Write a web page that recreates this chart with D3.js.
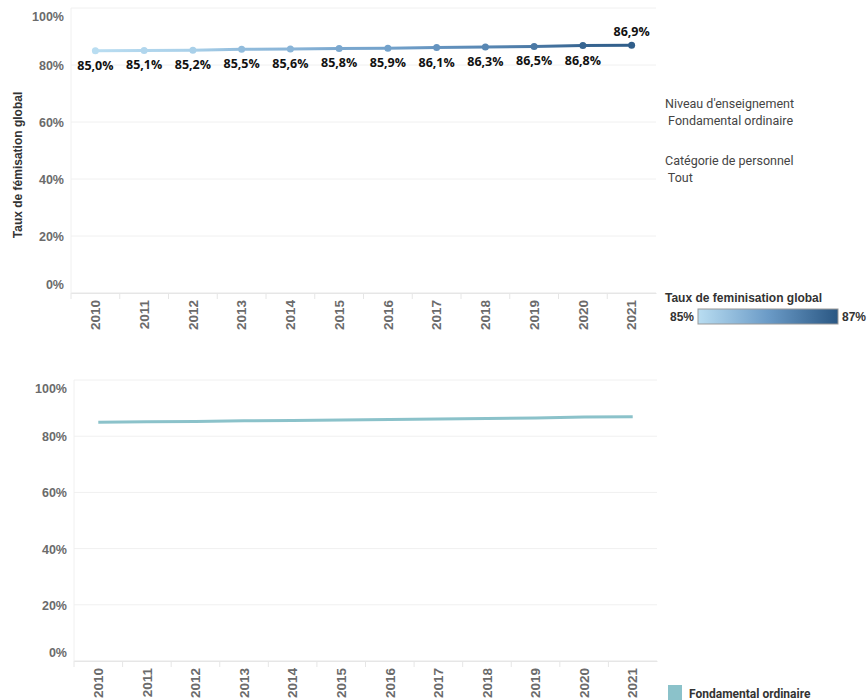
<!DOCTYPE html>
<html>
<head>
<meta charset="utf-8">
<script src="https://cdn.jsdelivr.net/npm/d3@7"></script>
<style>
  body { margin: 0; background: #fff; }
  svg { display: block; }
</style>
</head>
<body>
<div id="graph"></div>
<script>
// data
var years = ["2010","2011","2012","2013","2014","2015","2016","2017","2018","2019","2020","2021"];
var taux = [85.0, 85.1, 85.2, 85.5, 85.6, 85.8, 85.9, 86.1, 86.3, 86.5, 86.8, 86.9];
var yTicks = [0, 20, 40, 60, 80, 100];
var colorDomain = [85, 87];
var annotations = [["Niveau d'enseignement", " Fondamental ordinaire"], ["Catégorie de personnel", " Tout"]];
var seriesName = "Fondamental ordinaire";

var width = 867, height = 700;
var fmt = function (v) { return v.toFixed(1).replace(".", ",") + "%"; };

var svg = d3.select("#graph").append("svg")
    .attr("width", width)
    .attr("height", height);

var color = d3.scaleLinear()
    .domain([colorDomain[0], (colorDomain[0] + colorDomain[1]) / 2, colorDomain[1]])
    .range(["#b9ddf1", "#6b9bc7", "#2a5783"]);

var defs = svg.append("defs");

function panel(top, bottom, left, right, opts) {
  var g = svg.append("g");
  var x = d3.scaleBand().domain(years).range([left, right]);
  var y = d3.scaleLinear().domain([0, 100]).range([bottom, top]);

  // grid
  g.selectAll(".grid").data(yTicks).enter().append("line")
      .attr("x1", left).attr("x2", right)
      .attr("y1", function (d) { return y(d); }).attr("y2", function (d) { return y(d); })
      .attr("stroke", function (d) { return d === 0 ? "#e6e6e6" : "#f0f0f0"; })
      .attr("stroke-width", 1);
  g.append("line").attr("x1", left).attr("x2", left).attr("y1", top).attr("y2", bottom)
      .attr("stroke", "#f0f0f0");

  // y labels (tableau nudges the outer ones inside)
  g.selectAll(".ylab").data(yTicks).enter().append("text")
      .attr("x", left - 7)
      .attr("y", function (d) { return y(d) + (d === 100 ? 13 : d === 0 ? -4 : 5); })
      .attr("text-anchor", "end")
      .attr("font-family", "Liberation Sans, Arial, sans-serif")
      .attr("font-weight", "bold")
      .attr("font-size", 12.5)
      .attr("fill", "#6b6b6b")
      .text(function (d) { return d + "%"; });

  // x ticks + labels
  var xAxis = d3.axisBottom(x).tickSize(6).tickSizeOuter(0);
  var ax = g.append("g").attr("transform", "translate(0," + bottom + ")").call(xAxis);
  ax.select(".domain").attr("stroke", "#e6e6e6");
  ax.selectAll(".tick line").attr("stroke", "#e6e6e6")
      .attr("transform", "translate(" + (-x.bandwidth() / 2) + ",0)");
  ax.selectAll(".tick text")
      .attr("transform", "rotate(-90)")
      .attr("text-anchor", "end")
      .attr("x", -7).attr("y", 0).attr("dy", "0.35em")
      .attr("font-family", "Liberation Sans, Arial, sans-serif")
      .attr("font-weight", "bold")
      .attr("font-size", 13.5)
      .attr("fill", "#6b6b6b");

  var cx = function (d, i) { return x(years[i]) + x.bandwidth() / 2; };
  var line = d3.line().x(function (d, i) { return cx(d, i); }).y(function (d) { return y(d); });

  if (opts.gradient) {
    var grad = defs.append("linearGradient").attr("id", "lineGrad")
        .attr("gradientUnits", "userSpaceOnUse")
        .attr("x1", cx(0, 0)).attr("x2", cx(0, years.length - 1)).attr("y1", 0).attr("y2", 0);
    grad.selectAll("stop").data(taux).enter().append("stop")
        .attr("offset", function (d, i) { return i / (taux.length - 1); })
        .attr("stop-color", function (d) { return color(d); });
    g.append("path").datum(taux).attr("d", line)
        .attr("fill", "none").attr("stroke", "url(#lineGrad)").attr("stroke-width", 3);
    g.selectAll(".pt").data(taux).enter().append("circle")
        .attr("cx", cx).attr("cy", function (d) { return y(d); })
        .attr("r", 3.5).attr("fill", function (d) { return color(d); });
    g.selectAll(".lab").data(taux).enter().append("text")
        .attr("x", cx)
        .attr("y", function (d, i) { return y(d) + (i === taux.length - 1 ? -9 : 19); })
        .attr("text-anchor", "middle")
        .attr("font-family", "Open Sans, sans-serif")
        .attr("font-weight", "bold")
        .attr("font-size", 12.5)
        .attr("fill", "#111")
        .text(fmt);
  } else {
    g.append("path").datum(taux).attr("d", line)
        .attr("fill", "none").attr("stroke", opts.stroke).attr("stroke-width", 3);
  }
  return g;
}

panel(8, 293, 71, 656, { gradient: true });
panel(380, 661, 74, 657, { gradient: false, stroke: "#8bc2ca" });

// y axis title
svg.append("text")
    .attr("transform", "translate(22,165) rotate(-90)")
    .attr("text-anchor", "middle")
    .attr("font-family", "Liberation Sans, Arial, sans-serif")
    .attr("font-weight", "bold")
    .attr("font-size", 12)
    .attr("fill", "#333")
    .text("Taux de fémisation global");

// annotations
annotations.forEach(function (a, i) {
  var t = svg.append("text")
      .attr("font-family", "Roboto, sans-serif")
      .attr("font-size", 12.5)
      .attr("fill", "#444");
  t.append("tspan").attr("x", 665).attr("y", 108 + i * 57).text(a[0]);
  t.append("tspan").attr("x", 665).attr("y", 125 + i * 57).attr("xml:space", "preserve").text(a[1]);
});

// colour legend
svg.append("text").attr("x", 665).attr("y", 302)
    .attr("font-family", "Liberation Sans, Arial, sans-serif")
    .attr("font-weight", "bold").attr("font-size", 12).attr("fill", "#333")
    .text("Taux de feminisation global");
var lg = defs.append("linearGradient").attr("id", "legGrad");
lg.selectAll("stop").data(color.domain()).enter().append("stop")
    .attr("offset", function (d, i) { return i / 2; })
    .attr("stop-color", function (d) { return color(d); });
svg.append("rect").attr("x", 698).attr("y", 309).attr("width", 140).attr("height", 15)
    .attr("fill", "url(#legGrad)").attr("stroke", "#999").attr("stroke-width", 1);
svg.append("text").attr("x", 694).attr("y", 321).attr("text-anchor", "end")
    .attr("font-family", "Liberation Sans, Arial, sans-serif")
    .attr("font-weight", "bold").attr("font-size", 12).attr("fill", "#333")
    .text(colorDomain[0] + "%");
svg.append("text").attr("x", 842).attr("y", 321)
    .attr("font-family", "Liberation Sans, Arial, sans-serif")
    .attr("font-weight", "bold").attr("font-size", 12).attr("fill", "#333")
    .text(colorDomain[1] + "%");

// series legend
svg.append("rect").attr("x", 668).attr("y", 685).attr("width", 14).attr("height", 15)
    .attr("fill", "#8bc2ca");
svg.append("text").attr("x", 689).attr("y", 698)
    .attr("font-family", "Roboto, sans-serif")
    .attr("font-weight", "bold").attr("font-size", 12).attr("fill", "#333")
    .text(seriesName);
</script>
</body>
</html>
